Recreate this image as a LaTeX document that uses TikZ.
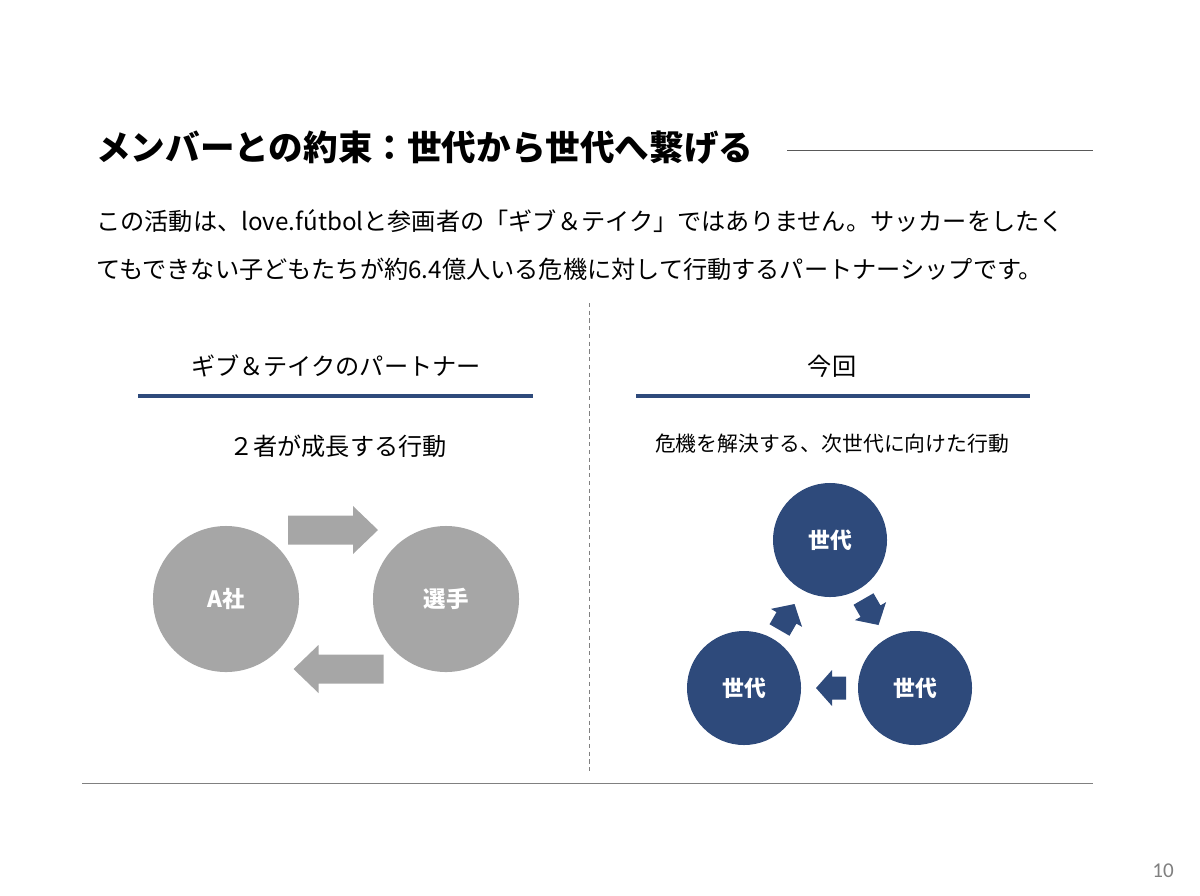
\documentclass[tikz,border=0pt]{standalone}
\usepackage{fontspec}
\setmainfont{Noto Sans CJK JP}
\newfontfamily\pagefont{Carlito}
\definecolor{navy}{HTML}{2E4A7B}
\definecolor{circgray}{HTML}{A6A6A6}
\definecolor{rulegray}{HTML}{595959}
\tikzset{
  titletext/.style={anchor=west,inner sep=0pt,font=\fontsize{24.6}{28}\selectfont\bfseries},
  bodytext/.style={anchor=west,inner sep=0pt,font=\fontsize{17.2}{20}\selectfont},
  headtext/.style={inner sep=0pt,font=\fontsize{17.2}{20}\selectfont},
  gcircle/.style={circle,fill=circgray,draw=none,minimum size=3.65cm,text=white,font=\fontsize{16}{20}\selectfont\bfseries},
  bcircle/.style={circle,fill=navy,draw=none,minimum size=2.85cm,text=white,font=\fontsize{15.5}{20}\selectfont\bfseries},
  blueline/.style={navy,line width=2.2pt},
  garrow/.pic={\fill[circgray] (-45,-14.5) -- (20,-14.5) -- (20,-24) -- (45,0) -- (20,24) -- (20,14.5) -- (-45,14.5) -- cycle;},
  barrow/.pic={\fill[navy] (-15,-11.5) -- (-1,-11.5) -- (-1,-18) -- (15,0) -- (-1,18) -- (-1,11.5) -- (-15,11.5) -- cycle;}
}
\begin{document}
\begin{tikzpicture}[x=0.025cm,y=-0.025cm]
\useasboundingbox (0,0) rectangle (1200,895);
% title
\node[titletext] (title) at (96,148) {メンバーとの約束：世代から世代へ繋げる};
\draw[rulegray,line width=0.6pt] (787,150) -- (1093,150);
\node[bodytext] (body1) at (96,221) {この活動は、love.fútbolと参画者の「ギブ＆テイク」ではありません。サッカーをしたく};
\node[bodytext] (body2) at (96,269) {てもできない子どもたちが約6.4億人いる危機に対して行動するパートナーシップです。};
% divider
\draw[gray,line width=0.6pt,dash pattern=on 3pt off 2.5pt] (589,303) -- (589,772);
\draw[gray,line width=0.6pt] (82,783) -- (1093,783);
% left side
\node[headtext] (lhead) at (336,366) {ギブ＆テイクのパートナー};
\draw[blueline] (138,396) -- (533,396);
\node[headtext] (lsub) at (338,446) {２者が成長する行動};
\node[gcircle] (company) at (226,599) {A社};
\node[gcircle] (player) at (446,599) {選手};
\pic at (333,530) {garrow};
\pic[rotate=180] at (338.5,669) {garrow};
% right side
\node[headtext] (rhead) at (832,366) {今回};
\draw[blueline] (636,396) -- (1030,396);
\node[headtext,font=\fontsize{14.8}{18}\selectfont] (rsub) at (832,444) {危機を解決する、次世代に向けた行動};
\node[bcircle] (gentop) at (830,540) {世代};
\node[bcircle] (genleft) at (744,688) {世代};
\node[bcircle] (genright) at (915,688) {世代};
\pic[rotate=60] at (787,617) {barrow};
\pic[rotate=-60] at (871,612) {barrow};
\pic[rotate=180] at (831,688) {barrow};
% page number
\node[text=gray,font=\pagefont\fontsize{15}{18}\selectfont] (pagenum) at (1163,871) {10};
\end{tikzpicture}
\end{document}
